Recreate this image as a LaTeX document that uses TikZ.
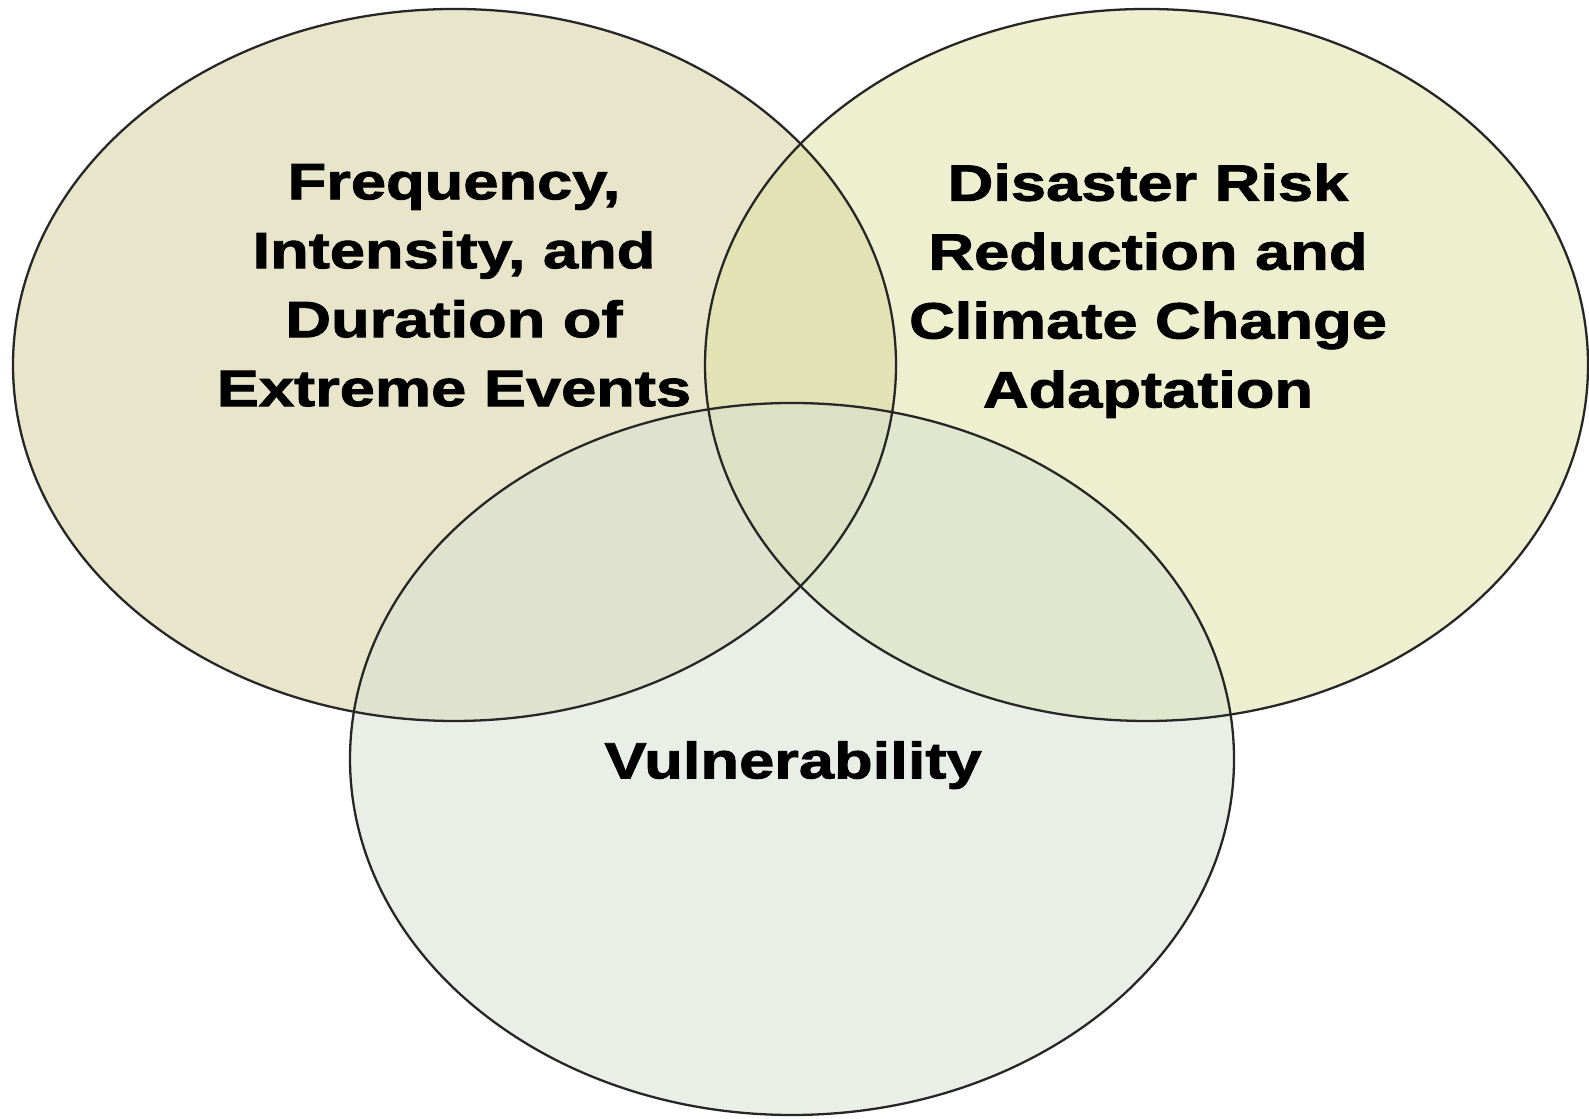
\documentclass[tikz,border=0pt]{standalone}
\usepackage{fontspec}
\usepackage{xcolor}
\usepackage{tikz}
\usetikzlibrary{positioning}
\newfontfamily\vennfont[FakeStretch=1.24,FakeBold=1.8]{Liberation Sans}
\definecolor{hazard}{RGB}{213,205,153}
\definecolor{adapt}{RGB}{223,225,159}
\definecolor{vulner}{RGB}{213,225,209}
\tikzset{venntext/.style={inner sep=0pt,anchor=north,align=center,
  font=\vennfont\bfseries\fontsize{14.5pt}{19.6pt}\selectfont}}

\begin{document}
\begin{tikzpicture}[x=.01cm,y=.01cm]
\def\hazardellipse{(454.5,754) ellipse (441.5 and 356)}
\def\adaptellipse{(1146.5,754) ellipse (441.5 and 356)}
\def\vulnerellipse{(792,360) ellipse (442 and 356)}
      \fill[white] (0,0) rectangle (1589,1119);
      \useasboundingbox (0,0) rectangle (1589,1119);
      \fill[hazard,fill opacity=.5] \hazardellipse;
      \fill[adapt,fill opacity=.5] \adaptellipse;
      \fill[vulner,fill opacity=.5] \vulnerellipse;
      \draw[black!85,line width=.65pt] \hazardellipse;
      \draw[black!85,line width=.65pt] \adaptellipse;
      \draw[black!85,line width=.65pt] \vulnerellipse;
      \node[venntext] (freq) at (454,955.5) {Frequency,\\Intensity, and\\Duration of\\Extreme Events};
      \node[venntext] (drr) at (1148,956) {Disaster Risk\\Reduction and\\Climate Change\\Adaptation};
      \node[venntext] (vuln) at (793,378.3) {Vulnerability};
\end{tikzpicture}
\end{document}
